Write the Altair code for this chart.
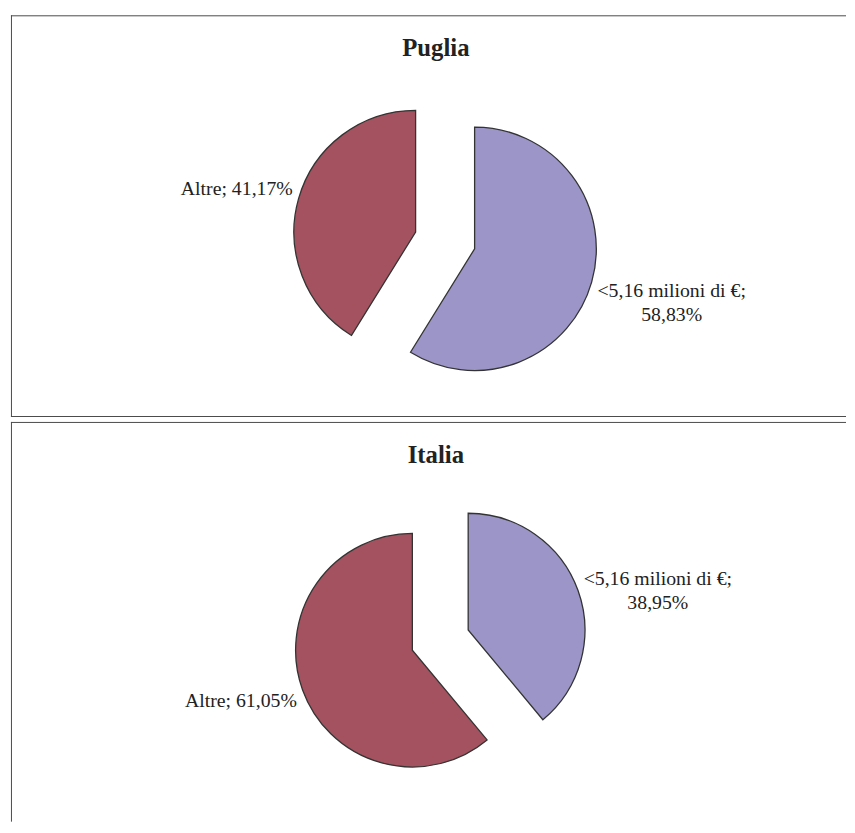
import math
import altair as alt
import pandas as pd

# ---- data ----
regions = ["Puglia", "Italia"]
categories = ["<5,16 milioni di €", "Altre"]
puglia_values = [58.83, 41.17]
italia_values = [38.95, 61.05]

# ---- style / layout constants ----
COLORS = ["#9C95C7", "#A4525F"]
BORDER = "#4a4a4a"
FONT = "Liberation Serif"
LABEL_SIZE = 20
TITLE_SIZE = 25
PANEL_W = 844
PANEL_H = [406, 404]
CENTERS = [(438.8, 227.5), (433.9, 220.5)]
RADII = [123, 118]
EXPLODE = [31, 30]
TITLE_POS = (429.5, 41.5)

# Times-compatible glyph widths (per 1000 em) for label width estimate
GW = {'<': 564, '5': 500, ',': 250, '1': 500, '6': 500, ' ': 250, 'm': 778,
      'i': 278, 'l': 278, 'o': 500, 'n': 500, 'd': 500, '€': 500, ';': 278,
      '8': 500, '3': 500, '%': 833, 'A': 722, 't': 278, 'r': 333, 'e': 444,
      '4': 500, '7': 500, '0': 500, '9': 500, '2': 500}


def text_w(s):
    return max(sum(GW.get(c, 500) for c in line) for line in s.split("\n")) / 1000 * LABEL_SIZE


def fmt(v):
    return f"{v:.2f}".replace(".", ",") + "%"


def panel(region, values, idx, bottom_border):
    cx, cy = CENTERS[idx]
    R = RADII[idx]
    ex = EXPLODE[idx]
    H = PANEL_H[idx]
    rows = []
    cum = 0.0
    for cat, v in zip(categories, values):
        start, end = cum, cum + v
        cum = end
        mid = (start + end) / 2 / 100 * 2 * math.pi
        sx, sy = math.sin(mid), -math.cos(mid)
        if len(cat) > 10:
            label = f"{cat};\n{fmt(v)}"
        else:
            label = f"{cat}; {fmt(v)}"
        d = R + ex + 6
        ax = cx + sx * d
        ay = cy + sy * d * 1.18
        hw = text_w(label) / 2
        lx = ax + hw if sx >= 0 else ax - hw
        rows.append(dict(category=cat, value=v, start=start, end=end,
                         px=cx + sx * ex, py=cy + sy * ex,
                         label=label, lx=lx, ly=ay))
    df = pd.DataFrame(rows)
    base = alt.Chart(df)
    arcs = base.mark_arc(radius=R, stroke="#333333", strokeWidth=1.3).encode(
        theta=alt.Theta("start:Q", scale=alt.Scale(domain=[0, 100], range=[0, 2 * math.pi])),
        theta2="end:Q",
        x=alt.X("px:Q", scale=None, axis=None),
        y=alt.Y("py:Q", scale=None, axis=None),
        color=alt.Color("category:N", scale=alt.Scale(domain=categories, range=COLORS), legend=None),
    )
    labels = base.mark_text(font=FONT, fontSize=LABEL_SIZE, color="#222222",
                            align="center", baseline="middle", lineBreak="\n",
                            lineHeight=24).encode(
        x=alt.X("lx:Q", scale=None, axis=None),
        y=alt.Y("ly:Q", scale=None, axis=None),
        text="label:N",
    )
    title = alt.Chart(pd.DataFrame({"t": [region]})).mark_text(
        font=FONT, fontSize=TITLE_SIZE, fontWeight="bold", color="#222222",
        align="center", baseline="alphabetic").encode(
        x=alt.value(TITLE_POS[0]), y=alt.value(TITLE_POS[1]), text="t:N")

    frame = alt.Chart(pd.DataFrame({"k": [0]}))
    top_line = frame.mark_rule(color=BORDER, strokeWidth=1).encode(
        x=alt.value(0), x2=alt.value(PANEL_W), y=alt.value(0.5))
    left_line = frame.mark_rule(color=BORDER, strokeWidth=1).encode(
        x=alt.value(0.5), y=alt.value(0), y2=alt.value(H))
    layers = [arcs, labels, title, top_line, left_line]
    if bottom_border:
        layers.append(frame.mark_rule(color=BORDER, strokeWidth=1).encode(
            x=alt.value(0), x2=alt.value(PANEL_W), y=alt.value(H - 0.5)))
    return alt.layer(*layers).properties(width=PANEL_W, height=H)


chart = alt.vconcat(
    panel(regions[0], puglia_values, 0, True),
    panel(regions[1], italia_values, 1, False),
    spacing=3,
).properties(
    padding={"left": 2, "top": 2, "right": 0, "bottom": 0}
).configure_view(
    strokeWidth=0
)

chart.save("out.html", embed_options={"renderer": "svg", "actions": False})
